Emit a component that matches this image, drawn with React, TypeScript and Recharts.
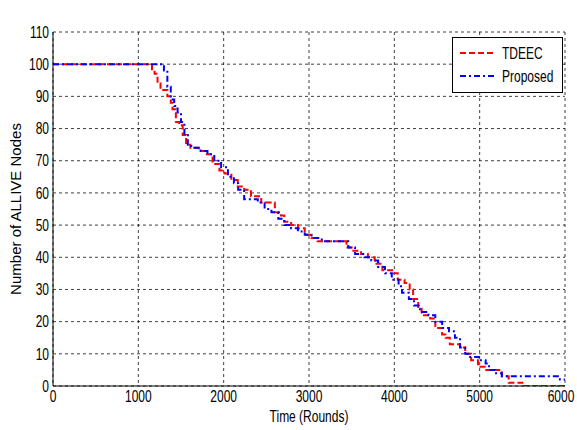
import { CartesianGrid, Legend, Line, LineChart, XAxis, YAxis } from "recharts";

const roundTicks = [0, 1000, 2000, 3000, 4000, 5000, 6000];
const nodeTicks = [0, 10, 20, 30, 40, 50, 60, 70, 80, 90, 100, 110];

// step points: value holds from each round onward
const tdeecRounds = [
  0, 1100, 1160, 1190, 1225, 1260, 1340, 1380, 1400, 1440, 1480, 1520, 1560, 1610, 1710, 1790,
  1870, 1950, 2010, 2090, 2165, 2240, 2320, 2440, 2600, 2670, 2710, 2790, 2870, 2950, 3030, 3100,
  3440, 3500, 3610, 3690, 3770, 3860, 3990, 4040, 4120, 4180, 4220, 4280, 4320, 4420, 4480, 4560,
  4600, 4650, 4770, 4830, 4900, 4980, 5060, 5260, 5340, 5500, 6000,
];
const tdeecNodes = [
  100, 100, 98, 97, 94, 92, 90, 88, 86, 82, 81, 78, 75, 74, 73, 72,
  69, 67, 66, 64, 62, 61, 59, 57, 54, 53, 51, 50, 49, 47, 46, 45,
  43, 42, 41, 40, 38, 36, 35, 33, 32, 30, 27, 24, 22, 21, 18, 16,
  15, 13, 12, 10, 8, 6, 5, 3, 1, 0, 0,
];

const proposedRounds = [
  0, 1260, 1300, 1340, 1380, 1420, 1460, 1500, 1540, 1580, 1620, 1730, 1810, 1890, 1970, 2050,
  2120, 2170, 2240, 2400, 2480, 2560, 2640, 2710, 2790, 2870, 2950, 3030, 3150, 3460, 3540, 3650,
  3730, 3810, 3890, 3970, 4050, 4090, 4170, 4230, 4300, 4400, 4480, 4560, 4640, 4710, 4770, 4830,
  4870, 4990, 5070, 5110, 5180, 5260, 5940, 6000,
];
const proposedNodes = [
  100, 100, 98, 93, 89, 87, 85, 82, 78, 75, 74, 73, 72, 70, 68, 65,
  63, 61, 58, 57, 55, 54, 52, 50, 49, 48, 47, 46, 45, 43, 41, 40,
  39, 37, 35, 33, 31, 29, 27, 25, 23, 22, 20, 18, 17, 15, 12, 10,
  9, 8, 7, 5, 4, 3, 2, 2,
];

const toPoints = (rounds: number[], nodes: number[]) =>
  rounds.map((round, i) => ({ round, nodes: nodes[i] }));

const tdeecData = toPoints(tdeecRounds, tdeecNodes);
const proposedData = toPoints(proposedRounds, proposedNodes);

const FONT = '"Liberation Sans", Arial, sans-serif';
const SQUEEZE = 0.75; // the source text is narrow, like a squashed Arial

function NarrowText({ x, y, anchor, dy, size = 16, children }: any) {
  return (
    <g transform={`translate(${x},${y}) scale(${SQUEEZE},1)`}>
      <text textAnchor={anchor} dy={dy} fontSize={size} fontFamily={FONT} fill="#000">
        {children}
      </text>
    </g>
  );
}

const XTick = (props: any) => (
  <NarrowText x={props.x} y={props.y} anchor="middle" dy="0.71em">
    {props.payload.value}
  </NarrowText>
);

const YTick = (props: any) => (
  <NarrowText x={props.x} y={props.y} anchor="end" dy="0.36em">
    {props.payload.value}
  </NarrowText>
);

const TitleLabel = ({ viewBox }: any) => (
  <NarrowText x={viewBox.x + viewBox.width / 2} y={viewBox.y - 12} anchor="middle">
    Lifetime of Network
  </NarrowText>
);

const XTitle = ({ viewBox }: any) => (
  <NarrowText x={viewBox.x + viewBox.width / 2} y={viewBox.y + viewBox.height - 8} anchor="middle">
    Time (Rounds)
  </NarrowText>
);

const YTitle = ({ viewBox }: any) => (
  <text
    transform={`translate(21,${viewBox.y + viewBox.height / 2}) rotate(-90)`}
    textAnchor="middle"
    fontSize={15}
    fontFamily={FONT}
    fill="#000"
  >
    Number of ALLIVE Nodes
  </text>
);

function LegendBox() {
  return (
    <svg width={111} height={56} style={{ display: "block" }}>
      <rect x={0.5} y={0.5} width={110} height={55} fill="#fff" stroke="#000" />
      <line x1={8} y1={16} x2={44} y2={16} stroke="#ff0000" strokeWidth={2} strokeDasharray="6 3" />
      <NarrowText x={50} y={22}>TDEEC</NarrowText>
      <line x1={8} y1={39} x2={44} y2={39} stroke="#0000ff" strokeWidth={2} strokeDasharray="6 3 2 3" />
      <NarrowText x={50} y={45}>Proposed</NarrowText>
    </svg>
  );
}

export default function App() {
  return (
    <div style={{ position: "absolute", left: 0, top: 0, background: "#fff" }}>
      <LineChart width={577} height={430} margin={{ top: 32, right: 12, bottom: 0, left: 0 }}>
        <CartesianGrid stroke="#000" strokeOpacity={0.75} strokeDasharray="3 3" />
        <XAxis
          dataKey="round"
          type="number"
          domain={[0, 6000]}
          ticks={roundTicks}
          allowDataOverflow
          height={44}
          axisLine={{ stroke: "#000" }}
          tickLine={false}
          tickSize={0}
          tickMargin={5}
          tick={XTick}
          label={{ content: XTitle }}
        />
        <XAxis
          xAxisId="top"
          orientation="top"
          type="number"
          domain={[0, 6000]}
          ticks={roundTicks}
          height={0}
          tick={false}
          tickLine={false}
          axisLine={{ stroke: "#000" }}
          label={{ content: TitleLabel }}
        />
        <YAxis
          type="number"
          domain={[0, 110]}
          ticks={nodeTicks}
          allowDataOverflow
          width={53}
          axisLine={{ stroke: "#000" }}
          tickLine={false}
          tickSize={0}
          tickMargin={4}
          tick={YTick}
          label={{ content: YTitle }}
        />
        <YAxis
          yAxisId="right"
          orientation="right"
          type="number"
          domain={[0, 110]}
          width={0}
          tick={false}
          tickLine={false}
          axisLine={{ stroke: "#000" }}
        />
        <Legend
          layout="horizontal"
          verticalAlign="middle"
          align="center"
          content={() => <LegendBox />}
          wrapperStyle={{ position: "absolute", left: 452, top: 37, width: 111, height: 56 }}
        />
        <Line
          data={tdeecData}
          dataKey="nodes"
          name="TDEEC"
          type="stepAfter"
          stroke="#ff0000"
          strokeWidth={2}
          strokeDasharray="6 3"
          dot={false}
          activeDot={false}
          isAnimationActive={false}
        />
        <Line
          data={proposedData}
          dataKey="nodes"
          name="Proposed"
          type="stepAfter"
          stroke="#0000ff"
          strokeWidth={2}
          strokeDasharray="6 3 2 3"
          dot={false}
          activeDot={false}
          isAnimationActive={false}
        />
      </LineChart>
    </div>
  );
}
